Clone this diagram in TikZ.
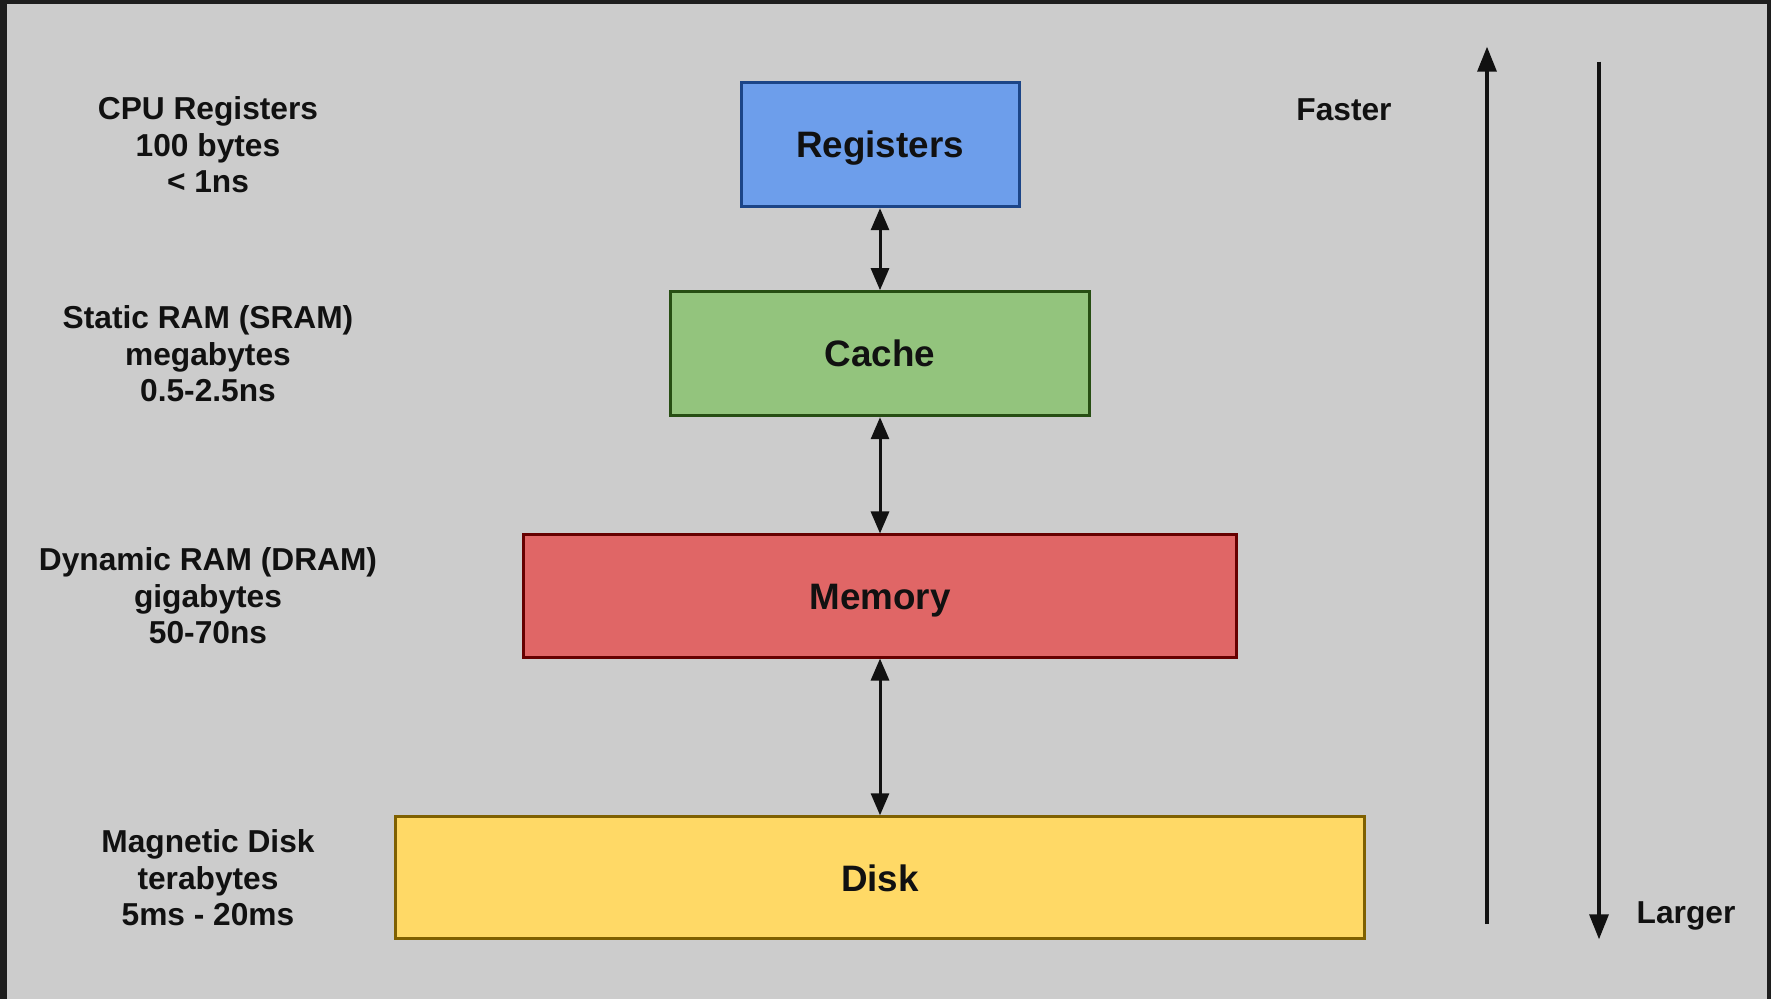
\documentclass[tikz,border=0pt]{standalone}
\usepackage{fontspec}
\setmainfont{Liberation Sans}
\usetikzlibrary{arrows.meta}
\definecolor{framec}{HTML}{1E1E1E}
\definecolor{bgc}{HTML}{CCCCCC}
\definecolor{regfill}{HTML}{6D9EEB}
\definecolor{regdraw}{HTML}{1C4587}
\definecolor{cachefill}{HTML}{93C47D}
\definecolor{cachedraw}{HTML}{274E13}
\definecolor{memfill}{HTML}{E06666}
\definecolor{memdraw}{HTML}{660000}
\definecolor{diskfill}{HTML}{FFD966}
\definecolor{diskdraw}{HTML}{7F6000}
\definecolor{inkc}{HTML}{111111}
\tikzset{
  level/.style={draw, line width=1.5pt, inner sep=0pt, text=inkc,
    text height=13.2pt, text depth=0pt,
    font=\fontsize{18.4}{21}\selectfont\bfseries},
  sidelabel/.style={align=center, text=inkc, inner sep=0pt,
    font=\fontsize{15.85}{18.3}\selectfont\bfseries},
  link/.style={line width=1.5pt, inkc, {Triangle[length=11pt,width=9pt]}-{Triangle[length=11pt,width=9pt]}},
  trend/.style={line width=1.7pt, inkc, -{Triangle[length=12.5pt,width=9.5pt]}}
}
\begin{document}
\begin{tikzpicture}[x=0.5pt, y=-0.5pt]
  \useasboundingbox (0,0) rectangle (1771,999);
  % frame and background
  \fill[framec] (0,0) rectangle (1771,999);
  \fill[bgc] (7,4) rectangle (1767,999);

  % memory hierarchy levels
  \node[level, fill=regfill, draw=regdraw, minimum width=139pt, minimum height=62pt]
    (reg) at (880,144.7) {Registers};
  \node[level, fill=cachefill, draw=cachedraw, minimum width=209.5pt, minimum height=62pt]
    (cache) at (880,353.7) {Cache};
  \node[level, fill=memfill, draw=memdraw, minimum width=356.5pt, minimum height=61pt]
    (mem) at (880,596) {Memory};
  \node[level, fill=diskfill, draw=diskdraw, minimum width=484.5pt, minimum height=61pt]
    (disk) at (880,877.8) {Disk};

  % links between levels
  \draw[link] (reg.south) -- (cache.north);
  \draw[link] (cache.south) -- (mem.north);
  \draw[link] (mem.south) -- (disk.north);

  % descriptions on the left
  \node[sidelabel] (lreg) at (208,145) {CPU Registers\\100 bytes\\< 1ns};
  \node[sidelabel] (lcache) at (208,354) {Static RAM (SRAM)\\megabytes\\0.5-2.5ns};
  \node[sidelabel] (lmem) at (208,596) {Dynamic RAM (DRAM)\\gigabytes\\50-70ns};
  \node[sidelabel] (ldisk) at (208,878) {Magnetic Disk\\terabytes\\5ms - 20ms};

  % speed and size trends
  \coordinate (upA) at (1487,924);
  \coordinate (upB) at (1487,46.7);
  \coordinate (dnA) at (1599,61.7);
  \coordinate (dnB) at (1599,939.3);
  \draw[trend] (upA) -- (upB);
  \draw[trend] (dnA) -- (dnB);
  \node[sidelabel] (faster) at (1344,110) {Faster};
  \node[sidelabel] (larger) at (1686,916) {Larger};
\end{tikzpicture}
\end{document}
